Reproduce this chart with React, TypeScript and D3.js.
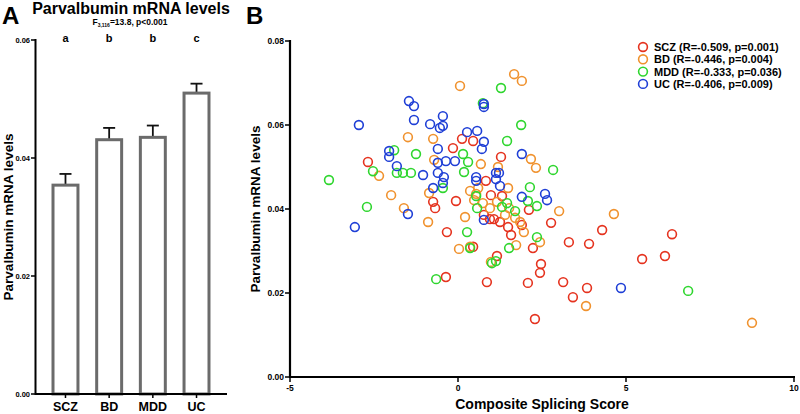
import React from "react";
import * as d3 from "d3";

// ---------- Panel A data ----------
const groups = ["SCZ", "BD", "MDD", "UC"];
const barMeans = [0.0354, 0.0431, 0.0435, 0.051];
const barSEM = [0.0019, 0.002, 0.002, 0.0016];
const sigLetters = ["a", "b", "b", "c"];
const yTicksA = [0, 0.02, 0.04, 0.06];

// ---------- Panel B data ----------
const sczX = [-2.68, 0.12, 0.45, -0.15, 1.28, 0.83, -0.74, -0.68, -0.06, -0.33, 0.98, 1.31, 0.77, 0.95, 1.07, 1.25, 1.49, 1.58, 1.9, 2.11, 2.77, 4.29, 6.37, 2.23, 3.3, 3.9, 0.45, 1.16, 2.47, 2.44, 5.48, 6.16, -0.36, 0.86, 2.08, 3.13, 3.84, 3.42, 2.29];
const sczY = [0.0512, 0.0567, 0.0562, 0.0545, 0.0524, 0.0467, 0.0417, 0.0402, 0.0419, 0.0345, 0.0433, 0.0431, 0.0386, 0.0376, 0.0376, 0.0369, 0.0357, 0.0338, 0.0362, 0.0398, 0.0367, 0.035, 0.034, 0.0307, 0.0321, 0.0317, 0.031, 0.0288, 0.0269, 0.0248, 0.0281, 0.0288, 0.0238, 0.0226, 0.0224, 0.0226, 0.0212, 0.019, 0.0138];

const bdX = [1.67, 1.9, 0.06, -1.49, -0.74, 2.17, 2.32, -2.35, -0.71, 0.68, 1.19, -1.99, -1.61, -0.89, -0.86, 0.21, 0.36, 0.6, 0.54, 0.48, 0.74, 0.95, 1.16, 1.49, 1.52, 1.4, 1.7, 1.85, 1.96, 3.01, 4.64, 2.44, 1.73, 0.03, 0.36, 0.98, 3.81, 8.75];
const bdY = [0.0721, 0.0705, 0.0693, 0.0571, 0.0567, 0.0519, 0.0498, 0.0479, 0.0517, 0.0507, 0.05, 0.0433, 0.0402, 0.0369, 0.0438, 0.0381, 0.0443, 0.045, 0.0436, 0.0421, 0.0414, 0.0402, 0.0417, 0.045, 0.0402, 0.0386, 0.0379, 0.0369, 0.0345, 0.0395, 0.0388, 0.0321, 0.0314, 0.0305, 0.031, 0.0274, 0.0169, 0.0129];

const mddX = [1.28, 0.74, 1.88, 1.46, -1.9, -1.25, 0.15, 0.3, 2.83, -2.53, -1.82, -1.64, -1.4, 0.18, -0.45, -3.84, -2.71, 0.54, 0.57, 1.31, 1.46, 1.7, 2.14, 2.08, 2.35, 0.27, 2.35, 1.52, 0.36, 1.01, 1.13, -0.65, 6.85];
const mddY = [0.0688, 0.0652, 0.06, 0.0562, 0.054, 0.0531, 0.0531, 0.0512, 0.0493, 0.049, 0.0486, 0.0486, 0.0486, 0.0488, 0.045, 0.0469, 0.0405, 0.0431, 0.0402, 0.0405, 0.0414, 0.0395, 0.0452, 0.0419, 0.0407, 0.0345, 0.0333, 0.0307, 0.0307, 0.0271, 0.0276, 0.0233, 0.0205];

const ucX = [-1.46, -1.31, 0.77, 0.77, -1.31, -2.95, -0.83, -0.45, -0.45, -0.54, 0.27, 0.57, 0.77, 0.71, -0.6, -2.05, -2.05, 1.9, -1.82, -1.04, -0.6, -0.36, -0.09, -0.6, -0.42, -0.45, -0.74, 0.54, 0.54, 1.13, 1.22, 1.13, 1.25, 1.9, 2.59, 2.65, -1.49, -3.07, 0.77, 4.85];
const ucY = [0.0657, 0.0645, 0.065, 0.0643, 0.0612, 0.06, 0.0602, 0.0621, 0.0598, 0.0593, 0.0583, 0.0586, 0.056, 0.0543, 0.0543, 0.0538, 0.0524, 0.0531, 0.0502, 0.0481, 0.051, 0.0514, 0.0514, 0.0486, 0.0476, 0.0462, 0.045, 0.0476, 0.0467, 0.0486, 0.0486, 0.0471, 0.0455, 0.0429, 0.0436, 0.0421, 0.0388, 0.0357, 0.0374, 0.0212];

const seriesNames = ["SCZ", "BD", "MDD", "UC"];
const legendLabels = [
  "SCZ (R=-0.509, p=0.001)",
  "BD (R=-0.446, p=0.004)",
  "MDD (R=-0.333, p=0.036)",
  "UC (R=-0.406, p=0.009)",
];
const seriesColors = ["#e5331f", "#f0922e", "#2fd62f", "#1f3fd6"];
const xTicksB = [-5, 0, 5, 10];
const yTicksB = [0, 0.02, 0.04, 0.06, 0.08];

const FONT = "'Liberation Sans', Arial, Helvetica, sans-serif";

export default function App() {
  const W = 800;
  const H = 414;

  // Panel A scales
  const xA = d3.scaleBand<string>().domain(groups).range([36, 226]).paddingInner(0.36).paddingOuter(0.355);
  const yA = d3.scaleLinear().domain([0, 0.06]).range([394, 40]);

  // Panel B scales
  const xB = d3.scaleLinear().domain([-5, 10]).range([290, 794]);
  const yB = d3.scaleLinear().domain([0, 0.08]).range([377, 41]);

  const seriesX = [sczX, bdX, mddX, ucX];
  const seriesY = [sczY, bdY, mddY, ucY];

  const fmt = d3.format(".2f");

  return (
    <svg width={W} height={H} style={{ position: "absolute", left: 0, top: 0, background: "#fff" }} fontFamily={FONT}>
      <rect x={0} y={0} width={W} height={H} fill="#fff" />
      {/* ---------------- Panel A ---------------- */}
      <text x={2} y={24} fontSize={24} fontWeight="bold">A</text>
      <text x={131} y={14} fontSize={16} fontWeight="bold" textAnchor="middle">Parvalbumin mRNA levels</text>
      <text x={130} y={25} fontSize={8.5} fontWeight="bold" textAnchor="middle">
        F<tspan fontSize={5} dy={2}>3,116</tspan><tspan dy={-2}>=13.8, p&lt;0.001</tspan>
      </text>
      <text transform={`translate(13,${yA(0.03)}) rotate(-90)`} fontSize={13.5} fontWeight="bold" textAnchor="middle">Parvalbumin mRNA levels</text>

      {groups.map((g, i) => {
        const x0 = xA(g)!;
        const bw = xA.bandwidth();
        const cx = x0 + bw / 2;
        return (
          <g key={g}>
            <line x1={cx} x2={cx} y1={yA(barMeans[i])} y2={yA(barMeans[i] + barSEM[i])} stroke="#111" strokeWidth={1.8} />
            <line x1={cx - 6} x2={cx + 6} y1={yA(barMeans[i] + barSEM[i])} y2={yA(barMeans[i] + barSEM[i])} stroke="#111" strokeWidth={1.8} />
            <rect x={x0 + 1.5} y={yA(barMeans[i])} width={bw - 3} height={yA(0) - yA(barMeans[i])} fill="#fff" stroke="#6b6b6b" strokeWidth={3} />
            <text x={cx} y={42} fontSize={11} fontWeight="bold" textAnchor="middle">{sigLetters[i]}</text>
            <line x1={cx} x2={cx} y1={yA(0)} y2={yA(0) + 4} stroke="#000" strokeWidth={1.5} />
            <text x={cx} y={411} fontSize={12.5} fontWeight="bold" textAnchor="middle">{g}</text>
          </g>
        );
      })}
      <line x1={35.5} x2={35.5} y1={yA(0.06) - 1} y2={yA(0) + 1} stroke="#000" strokeWidth={2} />
      <line x1={35.5} x2={227} y1={yA(0)} y2={yA(0)} stroke="#000" strokeWidth={2} />
      {yTicksA.map((t) => (
        <g key={t}>
          <line x1={31} x2={35.5} y1={yA(t)} y2={yA(t)} stroke="#000" strokeWidth={1.5} />
          <text x={30} y={yA(t) + 2.7} fontSize={7.5} fontWeight="bold" textAnchor="end">{fmt(t)}</text>
        </g>
      ))}

      {/* ---------------- Panel B ---------------- */}
      <text x={246} y={24} fontSize={24} fontWeight="bold">B</text>
      <text transform={`translate(260,${yB(0.04)}) rotate(-90)`} fontSize={13.5} fontWeight="bold" textAnchor="middle">Parvalbumin mRNA levels</text>
      <text x={542} y={409} fontSize={14} fontWeight="bold" textAnchor="middle">Composite Splicing Score</text>

      {seriesNames.map((s, si) => (
        <g key={s}>
          {seriesX[si].map((xv, j) => (
            <circle key={j} cx={xB(xv)} cy={yB(seriesY[si][j])} r={4.4} fill="none" stroke={seriesColors[si]} strokeWidth={1.6} />
          ))}
        </g>
      ))}

      <line x1={290} x2={290} y1={yB(0.08) - 1} y2={yB(0) + 1} stroke="#000" strokeWidth={2.2} />
      <line x1={290} x2={795} y1={yB(0)} y2={yB(0)} stroke="#000" strokeWidth={2.2} />
      {yTicksB.map((t) => (
        <g key={t}>
          <line x1={285} x2={290} y1={yB(t)} y2={yB(t)} stroke="#000" strokeWidth={1.5} />
          <text x={284} y={yB(t) + 3} fontSize={8.5} fontWeight="bold" textAnchor="end">{fmt(t)}</text>
        </g>
      ))}
      {xTicksB.map((t) => (
        <g key={t}>
          <line x1={xB(t)} x2={xB(t)} y1={yB(0)} y2={yB(0) + 5} stroke="#000" strokeWidth={1.5} />
          <text x={xB(t)} y={391} fontSize={8.5} fontWeight="bold" textAnchor="middle">{t}</text>
        </g>
      ))}

      {legendLabels.map((l, i) => (
        <g key={l}>
          <circle cx={643} cy={47 + i * 12.3} r={4.4} fill="none" stroke={seriesColors[i]} strokeWidth={1.6} />
          <text x={654} y={47 + i * 12.3 + 4} fontSize={11} fontWeight="bold">{l}</text>
        </g>
      ))}
    </svg>
  );
}
